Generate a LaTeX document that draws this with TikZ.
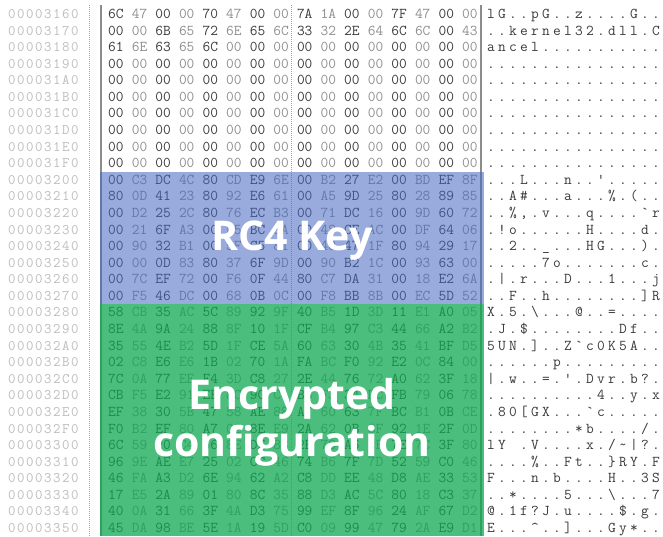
\documentclass[tikz,border=0pt]{standalone}
\usepackage{fontspec}
\newfontfamily\lblfont{Open Sans}
\definecolor{hexdark}{HTML}{3A3A3A}
\definecolor{hexlight}{HTML}{8E8E8E}
\definecolor{offc}{HTML}{BDBDBD}
\definecolor{ascc}{HTML}{3A3A3A}
\definecolor{linec}{HTML}{8C8C8C}
\definecolor{dotc}{HTML}{A0A0A0}
\definecolor{keyblue}{HTML}{4466C1}
\definecolor{cfggreen}{HTML}{0FA852}
\def\spcA#1{\ifx#1\relax\else\makebox[11pt][l]{#1}\expandafter\spcA\fi}
\def\spcO#1{\ifx#1\relax\else\makebox[9pt][l]{#1}\expandafter\spcO\fi}
\tikzset{
  offs/.style={anchor=base west, inner sep=0, text=offc, font=\ttfamily\fontsize{14.5}{17}\selectfont},
  hexb/.style={anchor=base west, inner sep=0, font=\ttfamily\fontsize{15}{18}\selectfont},
  asc/.style={anchor=base west, inner sep=0, text=ascc, font=\ttfamily\fontsize{15}{18}\selectfont},
  lbl/.style={anchor=base, inner sep=0, text=white, font=\lblfont\bfseries\fontsize{41}{47}\selectfont},
  solidsep/.style={draw=linec, line width=1.6pt},
  dotsep/.style={draw=dotc, line width=0.9pt, dash pattern=on 1pt off 1pt}
}
\newcommand\hexrow[4]{%
  \pgfmathsetmacro\yy{18.5+16.58*#1}%
  \node[offs] (o#1) at (8,\yy) {\spcO #2\relax};
  \foreach \b [count=\i from 0] in {#3} {
    \pgfmathsetmacro\xx{108+23.6*\i}
    \ifodd\i\relax\def\cc{hexlight}\else\def\cc{hexdark}\fi
    \node[hexb,text=\cc] (h#1-\i) at (\xx,\yy) {\b};
  }
  \node[asc] (a#1) at (487,\yy) {\spcA #4\relax};
}
\begin{document}
\begin{tikzpicture}[x=1pt,y=-1pt]
\useasboundingbox (0,0) rectangle (663,536);
\fill[white] (0,0) rectangle (663,536);
% separators
\coordinate (d1t) at (89.5,5); \coordinate (d1b) at (89.5,536);
\coordinate (s1t) at (101,5); \coordinate (s1b) at (101,536);
\coordinate (d2t) at (291.5,5); \coordinate (d2b) at (291.5,536);
\coordinate (s2t) at (481,5); \coordinate (s2b) at (481,536);
\draw[dotsep] (d1t) -- (d1b);
\draw[dotsep] (d2t) -- (d2b);
\draw[solidsep] (s1t) -- (s1b);
\draw[solidsep, line width=1.2pt] (s2t) -- (s2b);
% rows
\hexrow{0}{00003160}{6C,47,00,00,70,47,00,00,7A,1A,00,00,7F,47,00,00}{lG..pG..z....G..}
\hexrow{1}{00003170}{00,00,6B,65,72,6E,65,6C,33,32,2E,64,6C,6C,00,43}{..kernel32.dll.C}
\hexrow{2}{00003180}{61,6E,63,65,6C,00,00,00,00,00,00,00,00,00,00,00}{ancel...........}
\hexrow{3}{00003190}{00,00,00,00,00,00,00,00,00,00,00,00,00,00,00,00}{................}
\hexrow{4}{000031A0}{00,00,00,00,00,00,00,00,00,00,00,00,00,00,00,00}{................}
\hexrow{5}{000031B0}{00,00,00,00,00,00,00,00,00,00,00,00,00,00,00,00}{................}
\hexrow{6}{000031C0}{00,00,00,00,00,00,00,00,00,00,00,00,00,00,00,00}{................}
\hexrow{7}{000031D0}{00,00,00,00,00,00,00,00,00,00,00,00,00,00,00,00}{................}
\hexrow{8}{000031E0}{00,00,00,00,00,00,00,00,00,00,00,00,00,00,00,00}{................}
\hexrow{9}{000031F0}{00,00,00,00,00,00,00,00,00,00,00,00,00,00,00,00}{................}
\hexrow{10}{00003200}{00,C3,DC,4C,80,CD,E9,6E,00,B2,27,E2,00,BD,EF,8F}{...L...n..'.....}
\hexrow{11}{00003210}{80,0D,41,23,80,92,E6,61,00,A5,9D,25,80,28,89,85}{..A\#...a...\%.(..}
\hexrow{12}{00003220}{00,D2,25,2C,80,76,EC,B3,00,71,DC,16,00,9D,60,72}{..\%,.v...q....`r}
\hexrow{13}{00003230}{00,21,6F,A3,00,F5,BC,8A,00,48,CE,AC,00,DF,64,06}{.!o......H....d.}
\hexrow{14}{00003240}{00,90,32,B1,00,5F,C5,81,00,48,47,1F,80,94,29,17}{..2..\_...HG...).}
\hexrow{15}{00003250}{00,00,0D,83,80,37,6F,9D,00,90,B2,1C,00,93,63,00}{.....7o.......c.}
\hexrow{16}{00003260}{00,7C,EF,72,00,F6,0F,44,80,C7,DA,31,00,18,E2,6A}{.|.r...D...1...j}
\hexrow{17}{00003270}{00,F5,46,DC,00,68,0B,0C,00,F8,BB,8B,00,EC,5D,52}{..F..h........]R}
\hexrow{18}{00003280}{58,CB,35,AC,5C,89,92,9F,40,B5,1D,3D,11,E1,A0,05}{X.5.\textbackslash...@..=....}
\hexrow{19}{00003290}{8E,4A,9A,24,88,8F,10,1F,CF,B4,97,C3,44,66,A2,B2}{.J.\$........Df..}
\hexrow{20}{000032A0}{35,55,4E,B2,5D,1F,CE,5A,60,63,30,4B,35,41,BF,D5}{5UN.]..Z`c0K5A..}
\hexrow{21}{000032B0}{02,C8,E6,E6,1B,02,70,1A,FA,BC,F0,92,E2,0C,84,00}{......p.........}
\hexrow{22}{000032C0}{7C,0A,77,EE,F4,3D,C8,27,2E,44,76,72,A0,62,3F,18}{|.w..=.'.Dvr.b?.}
\hexrow{23}{000032D0}{CB,F5,E2,91,EE,8C,9C,C4,B8,F3,34,DC,FB,79,06,78}{..........4..y.x}
\hexrow{24}{000032E0}{EF,38,30,5B,47,58,AE,88,A7,60,63,7F,BC,B1,0B,CE}{.80[GX...`c.....}
\hexrow{25}{000032F0}{F0,B2,EF,80,A7,02,8E,E9,2A,62,0B,8F,92,1E,2F,0D}{........*b..../.}
\hexrow{26}{00003300}{6C,59,20,C4,56,8E,DE,8B,2E,78,A6,2F,7E,7C,3F,80}{lY~.V....x./\textasciitilde|?.}
\hexrow{27}{00003310}{96,9E,AE,E7,25,02,CC,46,74,B6,7F,7D,52,59,C0,46}{....\%..Ft..\}RY.F}
\hexrow{28}{00003320}{46,FA,A3,D2,6E,94,62,A2,C8,DD,EE,48,D8,AE,33,53}{F...n.b....H..3S}
\hexrow{29}{00003330}{17,E5,2A,89,01,80,8C,35,88,D3,AC,5C,80,18,C3,37}{..*....5...\textbackslash...7}
\hexrow{30}{00003340}{40,0A,31,66,3F,4A,D3,75,99,EF,8F,96,24,AF,67,D2}{@.1f?J.u....\$.g.}
\hexrow{31}{00003350}{45,DA,98,BE,5E,1A,19,5D,C0,09,99,47,79,2A,E9,D1}{E...\textasciicircum..]...Gy*..}
% overlays
\fill[keyblue, opacity=0.55] (100,171.7) rectangle (484,304.2);
\fill[cfggreen, opacity=0.75] (100,304.2) rectangle (484,536);
% labels
\node[lbl] (rc4) at (292,250) {RC4 Key};
\node[lbl] (enc1) at (292,409) {Encrypted};
\node[lbl] (enc2) at (292,456) {configuration};
\end{tikzpicture}
\end{document}
